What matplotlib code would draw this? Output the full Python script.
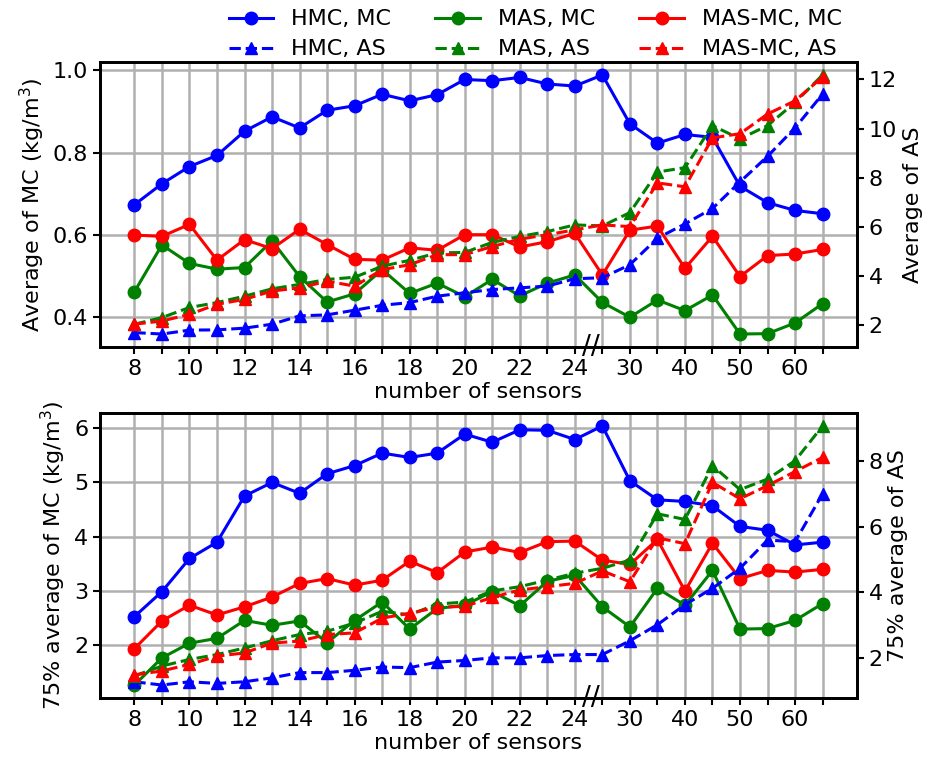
import numpy as np
import matplotlib
matplotlib.use("Agg")
import matplotlib.pyplot as plt
import matplotlib.transforms as mtransforms

plt.rcParams['font.family'] = ['DejaVu Sans']
plt.rcParams['font.size'] = 16

# number of sensors (categorical positions)
sensors = [8, 9, 10, 11, 12, 13, 14, 15, 16, 17, 18, 19, 20, 21, 22, 23, 24, 25,
           30, 35, 40, 45, 50, 55, 60, 65]
tick_labels = ['8', '', '10', '', '12', '', '14', '', '16', '', '18', '', '20', '', '22', '', '24', '',
               '30', '', '40', '', '50', '', '60', '']

# ---- top panel: average ----
hmc_mc = [0.673, 0.724, 0.766, 0.793, 0.852, 0.887, 0.860, 0.903, 0.914, 0.942, 0.926, 0.941, 0.978,
          0.975, 0.983, 0.967, 0.962, 0.989, 0.870, 0.823, 0.844, 0.837, 0.718, 0.678, 0.659, 0.651]
mas_mc = [0.461, 0.575, 0.530, 0.516, 0.520, 0.585, 0.498, 0.436, 0.456, 0.515, 0.457, 0.482, 0.449,
          0.491, 0.451, 0.482, 0.502, 0.435, 0.399, 0.441, 0.415, 0.453, 0.358, 0.359, 0.385, 0.432]
masmc_mc = [0.599, 0.596, 0.625, 0.538, 0.588, 0.566, 0.613, 0.576, 0.540, 0.538, 0.568, 0.562, 0.600,
            0.600, 0.570, 0.583, 0.603, 0.502, 0.611, 0.621, 0.518, 0.596, 0.498, 0.549, 0.553, 0.564]
hmc_as = [1.70, 1.64, 1.80, 1.81, 1.88, 2.04, 2.38, 2.42, 2.61, 2.81, 2.92, 3.18, 3.32,
          3.45, 3.52, 3.59, 3.89, 3.93, 4.46, 5.54, 6.12, 6.75, 7.83, 8.87, 10.03, 11.40]
mas_as = [2.04, 2.31, 2.72, 2.92, 3.18, 3.48, 3.66, 3.86, 3.95, 4.40, 4.64, 4.94, 4.96,
          5.37, 5.61, 5.81, 6.08, 6.04, 6.58, 8.23, 8.41, 10.12, 9.58, 10.12, 11.06, 12.18]
masmc_as = [2.04, 2.17, 2.44, 2.85, 3.05, 3.39, 3.52, 3.79, 3.59, 4.26, 4.46, 4.87, 4.87,
            5.20, 5.50, 5.68, 5.88, 6.08, 6.01, 7.79, 7.63, 9.62, 9.79, 10.59, 11.13, 12.10]

# ---- bottom panel: 75% average ----
hmc_mc75 = [2.53, 2.99, 3.60, 3.90, 4.75, 5.00, 4.80, 5.16, 5.31, 5.54, 5.46, 5.54, 5.89,
            5.74, 5.97, 5.96, 5.79, 6.04, 5.03, 4.68, 4.65, 4.57, 4.19, 4.12, 3.85, 3.90]
mas_mc75 = [1.27, 1.77, 2.04, 2.13, 2.46, 2.37, 2.45, 2.05, 2.46, 2.80, 2.30, 2.68, 2.74,
            2.99, 2.73, 3.18, 3.29, 2.71, 2.34, 3.05, 2.74, 3.38, 2.30, 2.31, 2.46, 2.77]
masmc_mc75 = [1.94, 2.45, 2.74, 2.56, 2.71, 2.89, 3.14, 3.23, 3.11, 3.20, 3.55, 3.34, 3.72,
              3.81, 3.71, 3.91, 3.92, 3.57, 3.49, 3.95, 3.00, 3.88, 3.23, 3.38, 3.35, 3.40]
hmc_as75 = [1.27, 1.17, 1.27, 1.22, 1.27, 1.39, 1.55, 1.55, 1.62, 1.72, 1.70, 1.87, 1.92,
            2.00, 2.00, 2.07, 2.10, 2.10, 2.52, 3.01, 3.62, 4.12, 4.73, 5.59, 5.54, 7.00]
mas_as75 = [1.45, 1.75, 1.95, 2.10, 2.30, 2.52, 2.71, 2.81, 3.06, 3.42, 3.31, 3.64, 3.70,
            4.04, 4.17, 4.37, 4.58, 4.73, 4.98, 6.39, 6.22, 7.86, 7.13, 7.45, 8.01, 9.07]
masmc_as75 = [1.48, 1.60, 1.80, 2.05, 2.15, 2.45, 2.51, 2.71, 2.76, 3.21, 3.36, 3.54, 3.57,
              3.84, 4.07, 4.17, 4.27, 4.65, 4.32, 5.66, 5.48, 7.35, 6.85, 7.25, 7.68, 8.11]

series_names = ['HMC', 'MAS', 'MAS-MC']
colors = ['blue', 'green', 'red']

W, H = 929, 765
fig = plt.figure(figsize=(W / 100, H / 100), dpi=100)

def px_axes(left, top, right, bottom):
    return [left / W, 1 - bottom / H, (right - left) / W, (bottom - top) / H]

xpos = np.arange(len(sensors))

def make_panel(rect, mc_list, as_list, ylab_left, ylab_right, left_ticks):
    ax = fig.add_axes(rect)
    ax2 = ax.twinx()
    hs = []
    for name, c, mc, a in zip(series_names, colors, mc_list, as_list):
        l1, = ax.plot(xpos, mc, '-o', color=c, lw=2.2, ms=9, label=f'{name}, MC')
        l2, = ax2.plot(xpos, a, '--^', color=c, lw=2.2, ms=9, label=f'{name}, AS')
        hs.append(l1)
        hs.append(l2)
    ax.set_xticks(xpos)
    ax.set_xticklabels(tick_labels)
    ax.set_yticks(left_ticks)
    ax.grid(True, color='#b0b0b0', lw=1.8)
    ax.set_axisbelow(True)
    ax.set_xlabel('number of sensors', labelpad=2)
    ax.set_ylabel(ylab_left)
    ax2.set_ylabel(ylab_right)
    for a_ in (ax, ax2):
        for s in a_.spines.values():
            s.set_linewidth(2)
        a_.tick_params(width=1.5, length=5)
    trans = mtransforms.blended_transform_factory(ax.transData, ax.transAxes)
    ax.text(16.6, 0.0, '//', transform=trans, ha='center', va='center',
            fontsize=19, clip_on=False, zorder=10)
    return ax, ax2, hs

ax, ax2, hs = make_panel(px_axes(100, 62, 857, 347),
                         [hmc_mc, mas_mc, masmc_mc], [hmc_as, mas_as, masmc_as],
                         'Average of MC (kg/m$^3$)', 'Average of AS',
                         [0.4, 0.6, 0.8, 1.0])
ax.set_yticklabels(['0.4', '0.6', '0.8', '1.0'])
ax2.set_yticks([2, 4, 6, 8, 10, 12])

bx, bx2, _ = make_panel(px_axes(100, 413, 857, 698),
                        [hmc_mc75, mas_mc75, masmc_mc75], [hmc_as75, mas_as75, masmc_as75],
                        '75% average of MC (kg/m$^3$)', '75% average of AS',
                        [2, 3, 4, 5, 6])
bx2.set_yticks([2, 4, 6, 8])

fig.legend(handles=hs, labels=[h.get_label() for h in hs], ncol=3,
           loc='upper center', bbox_to_anchor=(0.576, 1.014), frameon=False,
           fontsize=16, handlelength=2.0, columnspacing=2.0, labelspacing=0.45)

fig.savefig('out.png', dpi=100)
